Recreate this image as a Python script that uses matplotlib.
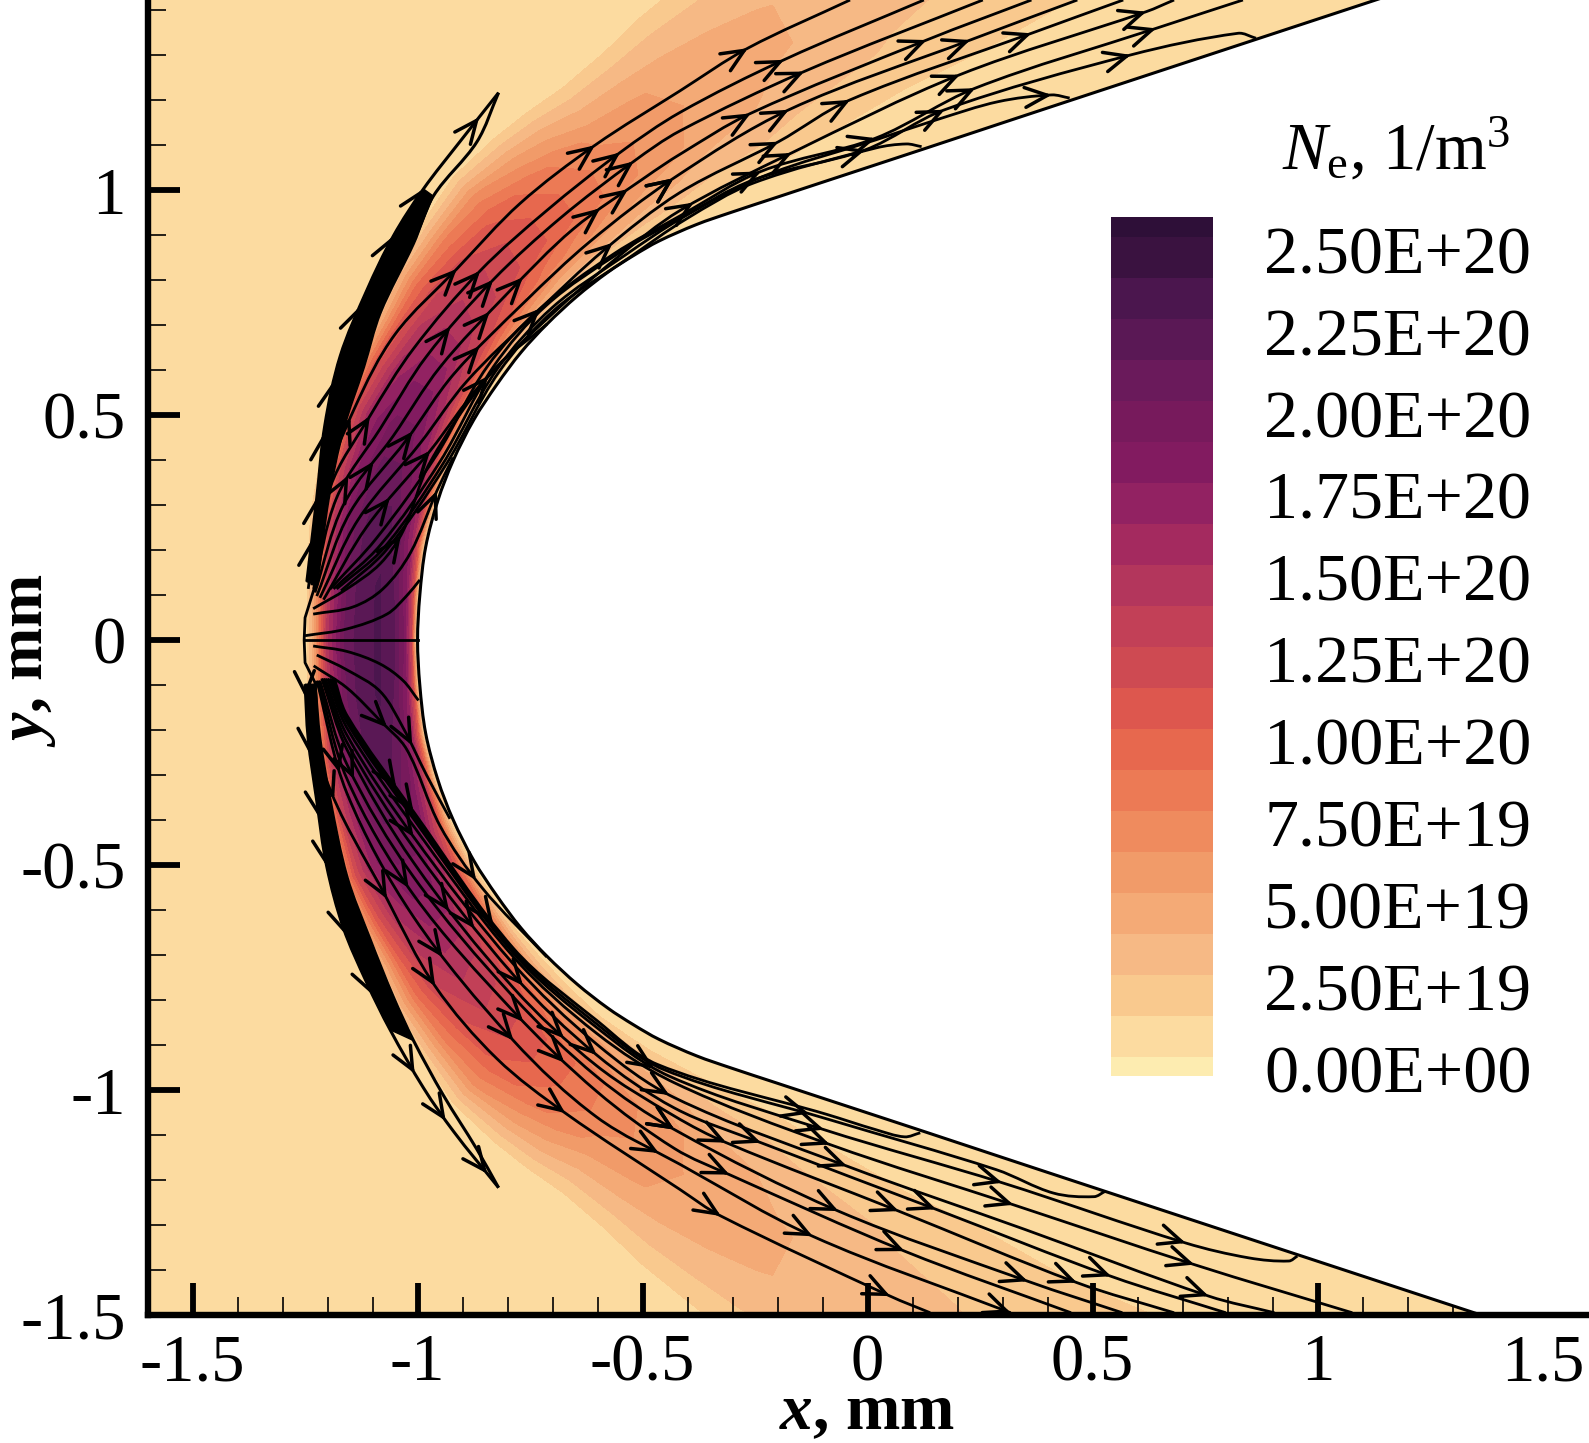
import numpy as np
import matplotlib
matplotlib.use('Agg')
import matplotlib.pyplot as plt
from matplotlib.colors import ListedColormap, BoundaryNorm
from matplotlib.patches import PathPatch
from matplotlib.path import Path
from matplotlib.ticker import MultipleLocator
from matplotlib.transforms import Affine2D

plt.rcParams['font.family'] = ['Liberation Serif', 'DejaVu Serif']
plt.rcParams['mathtext.fontset'] = 'custom'
plt.rcParams['mathtext.rm'] = 'Liberation Serif'
plt.rcParams['mathtext.it'] = 'Liberation Serif:italic'
plt.rcParams['mathtext.bf'] = 'Liberation Serif:bold'
plt.rcParams['mathtext.bfit'] = 'Liberation Serif:italic:bold'

# colour bands, bottom to top of the legend
band_colors = ['#FDECB0', '#FCDBA0', '#F9C98E', '#F6B985', '#F4AA76', '#F19B69',
               '#EF8B5E', '#EC7A55', '#E7684E', '#DD574E', '#CE4A52', '#C24057',
               '#B3365C', '#A42A5F', '#922262', '#821B60', '#771A5C', '#6A1A5B',
               '#5A1855', '#4B164E', '#3A1240', '#2E0F38']
band_edges = [-0.022] + list(np.arange(0.0375, 2.6, 0.125)) + [2.6]  # in 1e20
cb_ticks = [0, 0.25, 0.5, 0.75, 1.0, 1.25, 1.5, 1.75, 2.0, 2.25, 2.5]
cb_labels = ['0.00E+00', '2.50E+19', '5.00E+19', '7.50E+19', '1.00E+20', '1.25E+20',
             '1.50E+20', '1.75E+20', '2.00E+20', '2.25E+20', '2.50E+20']

# body wall, upper half (lower half is its mirror)
wall_x = [-1.0, -0.995, -0.982, -0.955, -0.921, -0.875, -0.824, -0.77, -0.712, -0.645, -0.577,
          -0.52, -0.464, -0.38, -0.306, -0.2, -0.1, 0.122, 0.3, 0.5, 1.135, 1.7]
wall_y = [0.0, 0.1, 0.207, 0.31, 0.399, 0.49, 0.568, 0.64, 0.703, 0.765, 0.818,
          0.855, 0.887, 0.924, 0.950, 0.985, 1.018, 1.091, 1.150, 1.216, 1.425, 1.611]

# outer edge of the coloured layer on the same stations
edge_x = [-1.25, -1.25, -1.243, -1.22, -1.19, -1.145, -1.1, -1.06, -1.0, -0.93, -0.84,
          -0.77, -0.69, -0.60, -0.52, -0.42, -0.32, -0.05, 0.15, 0.35, 1.0, 1.5]
edge_y = [0.0, 0.15, 0.28, 0.41, 0.55, 0.65, 0.74, 0.83, 0.93, 1.04, 1.13,
          1.19, 1.25, 1.335, 1.42, 1.51, 1.6, 1.75, 1.83, 1.9, 2.0, 2.1]

# Ne in 1e20 1/m3: one row per station, one column per fraction of the wall-edge distance
layer_frac = [0.0, 0.02, 0.06, 0.12, 0.22, 0.35, 0.5, 0.65, 0.8, 0.92, 1.0]
ne_table = [
    [.05, .30, 1.3, 1.9, 2.2, 2.3, 2.25, 2.05, 1.5, .50, .05],
    [.05, .30, 1.2, 1.8, 2.15, 2.3, 2.25, 2.0, 1.4, .50, .05],
    [.05, .25, 1.0, 1.65, 2.05, 2.25, 2.2, 1.95, 1.35, .50, .05],
    [.05, .20, .80, 1.45, 1.9, 2.1, 2.1, 1.85, 1.3, .50, .05],
    [.05, .15, .55, 1.2, 1.7, 1.95, 1.95, 1.75, 1.2, .50, .05],
    [.05, .12, .45, 1.0, 1.5, 1.8, 1.8, 1.6, 1.1, .45, .05],
    [.05, .12, .35, .85, 1.3, 1.6, 1.62, 1.45, 1.0, .40, .05],
    [.05, .10, .30, .70, 1.15, 1.4, 1.45, 1.3, .90, .40, .05],
    [.05, .10, .25, .55, 1.0, 1.25, 1.3, 1.15, .80, .35, .05],
    [.05, .10, .20, .45, .85, 1.1, 1.12, 1.0, .70, .30, .05],
    [.05, .08, .15, .40, .70, .95, .95, .85, .55, .25, .05],
    [.05, .08, .14, .35, .60, .83, .84, .74, .48, .22, .05],
    [.05, .08, .12, .30, .50, .70, .72, .62, .40, .20, .05],
    [.05, .07, .11, .25, .42, .60, .63, .56, .37, .18, .05],
    [.05, .07, .10, .20, .35, .50, .54, .50, .34, .17, .05],
    [.05, .07, .095, .17, .30, .43, .48, .46, .32, .16, .05],
    [.05, .07, .09, .14, .25, .37, .43, .42, .30, .15, .05],
    [.05, .06, .08, .11, .17, .27, .33, .36, .28, .14, .05],
    [.05, .06, .075, .10, .15, .22, .28, .32, .26, .135, .05],
    [.05, .06, .07, .09, .13, .18, .24, .28, .25, .13, .05],
    [.05, .05, .06, .08, .10, .13, .18, .20, .18, .12, .05],
    [.05, .05, .06, .08, .10, .13, .18, .20, .18, .12, .05],
]

# shock, thick black crescent, from nose to tip
shock_up_out = [(-1.246, .130), (-1.224, .316), (-1.206, .478), (-1.172, .631), (-1.113, .777),
                (-1.054, .898), (-.987, 1.003), (-.906, 1.108), (-.820, 1.217)]
shock_up_in = [(-1.224, .122), (-1.198, .316), (-1.165, .470), (-1.120, .607), (-1.083, .728),
               (-1.009, .882), (-.965, .987), (-.868, 1.108), (-.820, 1.217)]
shock_lo_out = [(-1.250, -.098), (-1.243, -.219), (-1.224, -.357), (-1.202, -.502), (-1.165, -.639),
                (-1.113, -.761), (-1.061, -.866), (-.987, -.995), (-.920, -1.092), (-.820, -1.217)]
shock_lo_in = [(-1.228, -.098), (-1.217, -.219), (-1.194, -.357), (-1.157, -.526), (-1.106, -.664),
               (-1.054, -.793), (-1.009, -.890), (-.943, -1.011), (-.868, -1.132), (-.820, -1.217)]

# streamlines, upper half
upper_lines = [
    [(-1.243, .114), (-1.209, .332), (-1.139, .518), (-1.050, .680), (-.913, .825), (-.772, .971), (-.606, 1.100), (-.417, 1.221), (-.266, 1.316), (-.039, 1.423)],
    [(-1.235, .122), (-1.194, .340), (-1.106, .498), (-1.009, .648), (-.861, .821), (-.713, .955), (-.550, 1.084), (-.417, 1.173), (-.186, 1.290), (.125, 1.423)],
    [(-1.231, .114), (-1.180, .316), (-1.083, .470), (-.980, .631), (-.832, .801), (-.683, .938), (-.520, 1.064), (-.417, 1.132), (-.141, 1.264), (.256, 1.423)],
    [(-1.228, .106), (-1.165, .300), (-1.054, .454), (-.950, .607), (-.802, .769), (-.654, .914), (-.491, 1.031), (-.417, 1.080), (-.260, 1.171), (.131, 1.334), (.364, 1.423)],
    [(-1.224, .098), (-1.150, .284), (-1.024, .446), (-.920, .591), (-.761, .753), (-.617, .886), (-.431, 1.027), (-.175, 1.179), (.228, 1.334), (.466, 1.423)],
    [(-1.217, .094), (-1.132, .268), (-.994, .438), (-.891, .575), (-.735, .729), (-.587, .866), (-.417, .995), (-.198, 1.108), (-.039, 1.201), (.364, 1.349), (.568, 1.423)],
    [(-1.209, .090), (-1.113, .252), (-.972, .421), (-.861, .567), (-.706, .720), (-.557, .850), (-.417, .955), (-.169, 1.083), (.205, 1.257), (.619, 1.397), (.681, 1.423)],
    [(-1.194, .114), (-1.091, .227), (-.957, .413), (-.846, .607), (-.728, .737), (-.565, .858), (-.417, .943), (-.237, 1.042), (.018, 1.116), (.239, 1.227), (.641, 1.360), (.834, 1.423)],
    [(-1.187, .114), (-1.083, .211), (-.950, .397), (-.832, .607), (-.713, .745), (-.550, .862), (-.417, .938), (-.254, 1.023), (-.005, 1.090), (.171, 1.179), (.585, 1.301), (.823, 1.349), (.863, 1.338)],
    [(-1.18, .114), (-1.075, .205), (-.945, .39), (-.825, .60), (-.70, .74), (-.54, .855), (-.41, .94), (-.232, 1.031), (.018, 1.112), (.154, 1.157), (.290, 1.197), (.409, 1.212), (.449, 1.205)],
    [(-1.17, .11), (-1.07, .20), (-.94, .385), (-.82, .595), (-.695, .735), (-.53, .85), (-.405, .935), (-.254, 1.016), (.018, 1.094), (.086, 1.103), (.120, 1.097)],
    [(-1.232, .07), (-1.157, .114), (-1.083, .17), (-1.032, .243), (-.972, .396), (-.832, .599), (-.712, .703)],
    [(-1.232, .058), (-1.143, .074), (-1.077, .114), (-1.016, .194), (-.957, .332), (-.921, .406)],
    [(-1.25, .01), (-1.157, .025), (-1.068, .058), (-1.024, .099), (-.995, .134)],
]

# streamlines, lower half
lower_lines = [
    [(-1.228, -.094), (-1.206, -.300), (-1.068, -.575), (-.961, -.769), (-.824, -.930), (-.672, -1.051), (-.417, -1.221), (-.326, -1.280), (.050, -1.458), (.139, -1.495)],
    [(-1.224, -.09), (-1.157, -.34), (-1.009, -.615), (-.787, -.89), (-.602, -1.06), (-.417, -1.165), (-.122, -1.325), (.318, -1.495)],
    [(-1.22, -.09), (-1.157, -.308), (-1.009, -.566), (-.787, -.825), (-.602, -1.003), (-.429, -1.13), (-.307, -1.188), (.082, -1.358), (.452, -1.495)],
    [(-1.217, -.09), (-1.157, -.276), (-1.009, -.526), (-.787, -.793), (-.602, -.970), (-.429, -1.088), (-.065, -1.269), (.356, -1.425), (.566, -1.495)],
    [(-1.213, -.085), (-1.157, -.243), (-1.009, -.494), (-.787, -.773), (-.602, -.946), (-.429, -1.058), (-.314, -1.117), (.069, -1.269), (.465, -1.428), (.681, -1.495)],
    [(-1.209, -.085), (-1.157, -.227), (-1.009, -.461), (-.787, -.744), (-.602, -.922), (-.429, -1.04), (-.237, -1.117), (.152, -1.265), (.541, -1.414), (.796, -1.495)],
    [(-1.205, -.085), (-1.157, -.211), (-1.009, -.437), (-.787, -.72), (-.602, -.898), (-.429, -1.017), (-.046, -1.169), (.350, -1.310), (.758, -1.458), (.904, -1.495)],
    [(-1.2, -.085), (-1.157, -.195), (-1.009, -.413), (-.787, -.704), (-.602, -.874), (-.429, -.984), (-.084, -1.121), (.324, -1.255), (.726, -1.388), (1.077, -1.495)],
    [(-1.195, -.085), (-1.157, -.183), (-1.009, -.397), (-.787, -.696), (-.602, -.861), (-.441, -.969), (-.097, -1.088), (.299, -1.206), (.707, -1.340), (.847, -1.373), (.936, -1.380), (.955, -1.369)],
    [(-1.19, -.085), (-1.157, -.175), (-1.009, -.389), (-.787, -.69), (-.602, -.853), (-.454, -.954), (-.084, -1.066), (.286, -1.177), (.413, -1.229), (.503, -1.237), (.528, -1.225)],
    [(-1.185, -.085), (-1.157, -.167), (-1.009, -.381), (-.787, -.685), (-.602, -.845), (-.467, -.943), (-.091, -1.054), (.018, -1.088), (.082, -1.104), (.117, -1.095)],
    [(-1.232, -.013), (-1.157, -.025), (-1.083, -.053), (-1.032, -.09), (-.998, -.134)],
    [(-1.224, -.033), (-1.157, -.066), (-1.083, -.114), (-1.032, -.195), (-.98, -.30), (-.928, -.397)],
    [(-1.231, -.057), (-1.157, -.106), (-1.083, -.179), (-1.024, -.243), (-.950, -.413), (-.857, -.55), (-.713, -.704)],
]

# stagnation line and the short bracket in front of it
center_x = [-1.25, -1.0]
center_y = [0.0, 0.0]
bracket_x = [-1.225, -1.25, -1.252, -1.25, -1.225]
bracket_y = [0.13, 0.05, 0.0, -0.05, -0.10]

# where the arrow heads sit
arrow_x = [-.606, -.550, -.520, -.431, -.543, -.617, -.565, -.913, -.861, -.832, -.761, -.850, -.913, -.735, -.861, -.843,
           -1.106, -1.143, -1.009, -1.091, -1.146, -.976, -1.068, -.961, -1.039,
           -.266, -.186, -.152, -.260, -.175, -.039, .131, .228, .364, .619, .641, .205, .239, .585, .171, -.198, -.169, -.237, .018, -.005, -.424, .409, -.40,
           -1.068, -1.002, -1.039, -1.024, -1.180, -1.128, -1.172, -1.002, -1.020, -1.068, -.943, -.898, -.872, -.831, -.943, -.961,
           -.765, -.802, -.754, -.661, -.609, -.661, -.668, -.483, -.468, -.431, -.424,
           -.429, -.307, -.314, -.237, -.326, -.122, -.065, .082, -.046, .069, .152, -.084, -.097, -.148, .050, .318, .356, .465, .541, .758, .324, .299, .707, .726]
arrow_y = [1.100, 1.084, 1.064, 1.027, .983, .959, .914, .825, .821, .801, .785, .716, .684, .741, .643, .583,
           .498, .506, .470, .405, .365, .409, .316, .337, .235,
           1.316, 1.290, 1.260, 1.171, 1.179, 1.201, 1.334, 1.334, 1.349, 1.397, 1.360, 1.257, 1.227, 1.301, 1.179, 1.108, 1.083, 1.042, 1.116, 1.090, 1.031, 1.212, .968,
           -.191, -.243, -.300, -.373, -.284, -.308, -.357, -.437, -.542, -.575, -.599, -.631, -.534, -.623, -.680, -.769,
           -.757, -.874, -.841, -.890, -.910, -.958, -1.043, -1.124, -.955, -1.003, -1.084,
           -1.088, -1.188, -1.117, -1.117, -1.280, -1.325, -1.269, -1.358, -1.169, -1.269, -1.265, -1.121, -1.088, -1.054, -1.458, -1.480, -1.425, -1.428, -1.414, -1.458, -1.255, -1.206, -1.340, -1.388]
shock_arrow_x = [-1.24, -1.23, -1.21, -1.19, -1.13, -1.05, -.985, -.87,
                 -1.245, -1.235, -1.22, -1.2, -1.15, -1.11, -1.0, -.93, -.84]
shock_arrow_y = [.15, .30, .44, .56, .74, .90, 1.0, 1.13,
                 -.12, -.25, -.38, -.50, -.66, -.78, -.97, -1.08, -1.19]

x_ticks = [-1.5, -1, -0.5, 0, 0.5, 1, 1.5]
x_tick_labels = ['-1.5', '-1', '-0.5', '0', '0.5', '1', '1.5']
y_ticks = [-1.5, -1, -0.5, 0, 0.5, 1]
y_tick_labels = ['-1.5', '-1', '-0.5', '0', '0.5', '1']


def smooth_path(pts):
    # bezier through the read points
    pts = np.array(pts, dtype=float)
    verts = [pts[0]]
    codes = [Path.MOVETO]
    for i in range(len(pts) - 1):
        p0 = pts[max(i - 1, 0)]
        p1 = pts[i]
        p2 = pts[i + 1]
        p3 = pts[min(i + 2, len(pts) - 1)]
        seg = np.hypot(*(p2 - p1))
        t1 = (p2 - p0) / np.hypot(*(p2 - p0))
        t2 = (p3 - p1) / np.hypot(*(p3 - p1))
        verts += [p1 + t1 * seg / 3, p2 - t2 * seg / 3, p2]
        codes += [Path.CURVE4] * 3
    return Path(verts, codes)


def flat(path):
    # flatten at pixel scale, the curves are too short in data units
    return path.to_polygons(transform=Affine2D().scale(450), closed_only=False)[0] / 450


def draw_arrow(ax, xs, ys, curves):
    # snap each head to the closest curve and take the direction from there
    for ax_x, ax_y in zip(xs, ys):
        best = None
        for c in curves:
            d = np.hypot(c[:, 0] - ax_x, c[:, 1] - ax_y)
            i = int(np.argmin(d))
            if best is None or d[i] < best[0]:
                best = (d[i], c, i)
        c, i = best[1], best[2]
        i = min(max(i, 1), len(c) - 1)
        u = c[i] - c[max(i - 3, 0)]
        u = u / np.hypot(*u)
        ax.annotate('', xy=c[i], xytext=c[i] - u * 0.02, zorder=5,
                    arrowprops=dict(arrowstyle='->,head_length=0.95,head_width=0.42', lw=2.5,
                                    color='k', shrinkA=0, shrinkB=0, mutation_scale=17))


fig = plt.figure(figsize=(15.89, 14.43), dpi=100)
ax = fig.add_axes([148 / 1589, 1 - 1315 / 1443, 1 - 148 / 1589, 1315 / 1443])
ax.set_facecolor('#FCDBA0')

# curvilinear mesh from the wall to the edge of the layer, mirrored for the lower half
frac = np.array(layer_frac)[None, :]
wx, wy = np.array(wall_x)[:, None], np.array(wall_y)[:, None]
ex, ey = np.array(edge_x)[:, None], np.array(edge_y)[:, None]
mesh_x = wx + (ex - wx) * frac
mesh_y = wy + (ey - wy) * frac
table = np.array(ne_table)
X = np.vstack([mesh_x[:0:-1], mesh_x])
Y = np.vstack([-mesh_y[:0:-1], mesh_y])
Z = np.vstack([table[:0:-1], table])
ax.contourf(X, Y, Z, levels=band_edges, colors=band_colors, zorder=1)

# white body
body = list(zip(wall_x[:0:-1], -np.array(wall_y[:0:-1]))) + list(zip(wall_x, wall_y))
ax.add_patch(PathPatch(smooth_path(body), fc='white', ec='none', zorder=3))
ax.add_patch(PathPatch(smooth_path(body), fc='none', ec='k', lw=2.2, zorder=3))

# shock
for out, inn, n in [(shock_up_out, shock_up_in, 7), (shock_lo_out, shock_lo_in, 7)]:
    ax.add_patch(PathPatch(smooth_path(out), fc='none', ec='k', lw=2.2, zorder=4))
    ax.add_patch(PathPatch(smooth_path(inn), fc='none', ec='k', lw=2.2, zorder=4))
    f_out, f_in = flat(smooth_path(out[:n])), flat(smooth_path(inn[:n]))
    ax.fill(np.r_[f_out[:, 0], f_in[::-1, 0]], np.r_[f_out[:, 1], f_in[::-1, 1]], color='k', lw=1, zorder=4)

# streamlines
curves = []
for pts in upper_lines + lower_lines:
    p = smooth_path(pts)
    ax.add_patch(PathPatch(p, fc='none', ec='k', lw=2.0, zorder=4))
    curves.append(flat(p))
ax.plot(center_x, center_y, color='k', lw=2.0, zorder=4)
ax.plot(bracket_x, bracket_y, color='k', lw=2.0, zorder=4)

draw_arrow(ax, arrow_x, arrow_y, curves)
draw_arrow(ax, shock_arrow_x, shock_arrow_y,
           [flat(smooth_path(shock_up_out)), flat(smooth_path(shock_lo_out))])

ax.set_xlim(-1.599, 1.603)
ax.set_ylim(-1.499, 1.423)
ax.spines['top'].set_visible(False)
ax.spines['right'].set_visible(False)
ax.spines['left'].set_linewidth(4.6)
ax.spines['bottom'].set_linewidth(4.6)
ax.spines['left'].set_zorder(7)
ax.spines['bottom'].set_zorder(7)
ax.set_xticks(x_ticks)
ax.set_xticklabels(x_tick_labels)
ax.set_yticks(y_ticks)
ax.set_yticklabels(y_tick_labels)
ax.xaxis.set_minor_locator(MultipleLocator(0.1))
ax.yaxis.set_minor_locator(MultipleLocator(0.1))
ax.tick_params(which='major', direction='in', length=23, width=4.2, labelsize=48)
ax.tick_params(which='minor', direction='in', length=13, width=1.2)
ax.tick_params(axis='x', which='major', pad=13)
ax.tick_params(axis='y', which='major', pad=16)
ax.set_axisbelow(False)

fig.text(867 / 1589, 0.0, r'$\mathbfit{x}$, mm', fontsize=47, fontweight='bold',
         ha='center', va='bottom')
fig.text(0.0, 1 - 660 / 1443, r'$\mathbfit{y}$, mm', fontsize=46, fontweight='bold',
         ha='left', va='center', rotation=90)

# legend bar
cax = fig.add_axes([1111 / 1589, 1 - 1076 / 1443, 102 / 1589, 859 / 1443])
cmap = ListedColormap(band_colors)
norm = BoundaryNorm(band_edges, cmap.N)
cax.pcolormesh([0, 1], band_edges, np.array([0.5 * (a + b) for a, b in zip(band_edges[:-1], band_edges[1:])])[:, None],
               cmap=cmap, norm=norm)
cax.set_ylim(band_edges[0], band_edges[-1])
cax.set_xticks([])
cax.yaxis.tick_right()
cax.set_yticks(cb_ticks)
cax.set_yticklabels(cb_labels)
cax.tick_params(axis='y', length=0, pad=37, labelsize=49)
for s in cax.spines.values():
    s.set_visible(False)

fig.text(1396 / 1589, 1 - 150 / 1443, r'$\mathit{N}_{\mathrm{e}}$, 1/m$^{3}$', fontsize=48,
         ha='center', va='center')

fig.savefig('out.png', dpi=100)
